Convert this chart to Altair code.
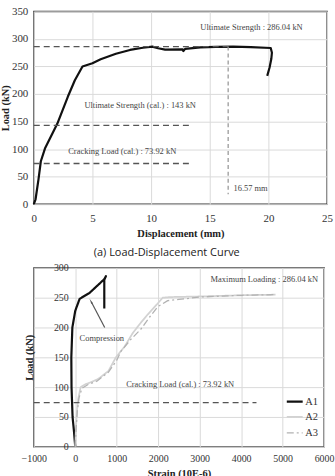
import altair as alt
import pandas as pd

SERIF = "Liberation Serif"
SANS = "Open Sans"

# ---------------- (a) load-displacement curve ----------------
disp_mm = [0, 0.15, 0.4, 0.6, 0.95, 2.0, 2.9, 3.5, 4.15, 5.0, 5.7, 7.0, 8.2, 9.3,
           10.1, 10.6, 11.2, 12.7, 12.75, 12.9, 14.2, 15.5, 17.0, 18.5, 20.2,
           20.3, 20.25, 20.1, 19.9]
disp_load = [0, 9, 45, 78, 101, 146, 195, 225, 250, 256, 263, 273, 280, 284,
             286.04, 283, 280.5, 281, 278, 282, 284.5, 285.5, 286.04, 285, 283.5,
             275, 264, 248, 233]

ultimate_load = 286.04
ultimate_cal = 143
cracking_cal = 73.92
ultimate_disp = 16.57
cal_line_end = 13.3
v_line_bottom = 18

# ---------------- strain gauge readings ----------------
a1_strain = [0, -30, -65, -90, -95, -70, 0, 105, 200, 345, 500, 700, 740, 700, 700]
a1_load = [0, 25, 50, 100, 150, 200, 228, 248, 252, 258, 268, 281, 286.04, 280, 232]

a2_strain = [0, 15, 40, 70, 130, 250, 370, 560, 800, 980, 1190, 1380, 1580, 1750,
             1920, 2110, 2300, 3000, 4000, 4830]
a2_load = [0, 30, 60, 80, 100, 105, 108, 114, 127, 150, 168, 190, 208, 222,
           235, 250, 251, 252, 254, 255]

a3_strain = [0, 20, 50, 90, 160, 300, 520, 800, 1000, 1100, 1340, 1580, 1800,
             1990, 2230, 2500, 3000, 4000, 4830]
a3_load = [0, 30, 60, 82, 98, 104, 110, 125, 145, 160, 180, 197, 218, 235, 245,
           247, 251, 254, 255]

series_names = ["A1", "A2", "A3"]
series_colors = ["#111111", "#d2d2d2", "#b2b2b2"]
series_dash = [[1, 0], [1, 0], [7, 3, 2, 3]]
series_width = [2.2, 1.3, 1.3]

max_loading = 286.04
crack_line_end = 4370

# ---------------- sizes ----------------
TOP_W, TOP_H = 295, 194
BOT_W, BOT_H = 292, 180
LABEL_SIZE = 8.5
NOTE_COLOR = "#444444"

# ================= top panel =================
x_top = dict(
    scale=alt.Scale(domain=[0, 25], nice=False),
    axis=alt.Axis(values=[0, 5, 10, 15, 20, 25], title="Displacement  (mm)",
                  labelFlush=False, labelOverlap=False, labelPadding=8,
                  titlePadding=5),
)
y_top = dict(
    scale=alt.Scale(domain=[0, 350], nice=False),
    axis=alt.Axis(values=list(range(0, 351, 50)), title="Load (kN)",
                  labelPadding=6, labelOverlap=False, titleX=-28, titleY=TOP_H / 2,
                  titleAngle=270, titleAlign="center", titleBaseline="middle"),
)

top_df = pd.DataFrame({"x": disp_mm, "y": disp_load, "i": range(len(disp_mm))})
top_curve = alt.Chart(top_df).mark_line(
    color="#111111", strokeWidth=2.2, strokeJoin="round"
).encode(x=alt.X("x:Q", **x_top), y=alt.Y("y:Q", **y_top), order="i:Q")

h_refs = pd.DataFrame({
    "x": [0, 0, 0],
    "x2": [ultimate_disp, cal_line_end, cal_line_end],
    "y": [ultimate_load, ultimate_cal, cracking_cal],
})
top_hrules = alt.Chart(h_refs).mark_rule(
    color="#555555", strokeDash=[6, 4], strokeWidth=1.3
).encode(x=alt.X("x:Q", **x_top), x2="x2:Q", y=alt.Y("y:Q", **y_top))

v_ref = pd.DataFrame({"x": [ultimate_disp], "y": [ultimate_load], "y2": [v_line_bottom]})
top_vrule = alt.Chart(v_ref).mark_rule(
    color="#9a9a9a", strokeDash=[4, 3], strokeWidth=1.3
).encode(x=alt.X("x:Q", **x_top), y=alt.Y("y:Q", **y_top), y2="y2:Q")

top_notes = pd.DataFrame({
    "x": [18.56, 9.07, 7.54],
    "y": [321, 180.5, 95.7],
    "label": [
        f"Ultimate Strength : {ultimate_load:.2f} kN",
        f"Ultimate Strength (cal.) : {ultimate_cal} kN",
        f"Cracking Load (cal.) : {cracking_cal:.2f} kN",
    ],
})
top_text = alt.Chart(top_notes).mark_text(
    font=SERIF, fontSize=LABEL_SIZE, color=NOTE_COLOR, align="center", baseline="middle"
).encode(x=alt.X("x:Q", **x_top), y=alt.Y("y:Q", **y_top), text="label:N")

disp_note = pd.DataFrame({"x": [ultimate_disp + 0.45], "y": [29],
                          "label": [f"{ultimate_disp:.2f} mm"]})
top_disp_text = alt.Chart(disp_note).mark_text(
    font=SERIF, fontSize=LABEL_SIZE, color=NOTE_COLOR, align="left", baseline="middle"
).encode(x=alt.X("x:Q", **x_top), y=alt.Y("y:Q", **y_top), text="label:N")

top = alt.layer(top_curve, top_hrules, top_vrule, top_text, top_disp_text).properties(
    width=TOP_W, height=TOP_H,
    title=alt.TitleParams("(a) Load-Displacement Curve", orient="bottom", frame="bounds",
                          anchor="middle", font=SANS, fontSize=11, fontWeight="normal",
                          color="#222222", offset=9),
)

# ================= bottom panel =================
zero_offset = BOT_W * 1000 / 7000
x_bot = dict(
    scale=alt.Scale(domain=[-1000, 6000], nice=False),
    axis=alt.Axis(values=list(range(-1000, 6001, 1000)), title="Strain (10E-6)",
                  format="d", labelFlush=False, labelOverlap=False, labelPadding=7,
                  labelFontSize=10, titlePadding=5),
)
y_bot = dict(
    scale=alt.Scale(domain=[0, 300], nice=False),
    axis=alt.Axis(values=list(range(0, 301, 50)), title="Load (kN)",
                  offset=-zero_offset, labelPadding=7, labelOverlap=False,
                  labelFontSize=10,
                  titleX=-zero_offset - 4, titleY=BOT_H / 2, titleAngle=270,
                  titleAlign="center", titleBaseline="middle"),
)

rows = []
for name, xs, ys in zip(series_names, [a1_strain, a2_strain, a3_strain],
                        [a1_load, a2_load, a3_load]):
    for i, (sx, sy) in enumerate(zip(xs, ys)):
        rows.append({"series": name, "x": sx, "y": sy, "i": i})
gauge_df = pd.DataFrame(rows)

legend = alt.Legend(title=None, orient="none", legendX=253, legendY=125,
                    symbolType="stroke", symbolSize=256, labelFont=SERIF,
                    labelFontSize=10.5, labelColor="#333333", labelOffset=1,
                    rowPadding=1, padding=0)

gauge_lines = alt.Chart(gauge_df).mark_line(strokeJoin="round").encode(
    x=alt.X("x:Q", **x_bot),
    y=alt.Y("y:Q", **y_bot),
    color=alt.Color("series:N", scale=alt.Scale(domain=series_names, range=series_colors),
                    legend=legend),
    strokeDash=alt.StrokeDash("series:N",
                              scale=alt.Scale(domain=series_names, range=series_dash),
                              legend=legend),
    strokeWidth=alt.StrokeWidth("series:N",
                                scale=alt.Scale(domain=series_names, range=series_width),
                                legend=legend),
    order="i:Q",
)

crack_ref = pd.DataFrame({"x": [-1000], "x2": [crack_line_end], "y": [cracking_cal]})
bot_rule = alt.Chart(crack_ref).mark_rule(
    color="#555555", strokeDash=[6, 4], strokeWidth=1.3
).encode(x=alt.X("x:Q", **x_bot), x2="x2:Q", y=alt.Y("y:Q", **y_bot))

bot_notes = pd.DataFrame({
    "x": [4560, 2530, 640],
    "y": [282, 105, 183],
    "label": [
        f"Maximum Loading : {max_loading:.2f} kN",
        f"Cracking Load (cal.) : {cracking_cal:.2f} kN",
        "Compression",
    ],
})
bot_text = alt.Chart(bot_notes).mark_text(
    font=SERIF, fontSize=LABEL_SIZE, color=NOTE_COLOR, align="center", baseline="middle"
).encode(x=alt.X("x:Q", **x_bot), y=alt.Y("y:Q", **y_bot), text="label:N")

# arrow pointing from the "Compression" note to the A1 curve
arrow_df = pd.DataFrame({"x": [710], "y": [200], "x2": [385], "y2": [243]})
arrow_shaft = alt.Chart(arrow_df).mark_rule(color="#555555", strokeWidth=1.2).encode(
    x=alt.X("x:Q", **x_bot), y=alt.Y("y:Q", **y_bot), x2="x2:Q", y2="y2:Q")
arrow_head = alt.Chart(arrow_df).mark_point(
    shape="wedge", angle=332, size=45, filled=True, color="#555555", opacity=1
).encode(x=alt.X("x2:Q", **x_bot), y=alt.Y("y2:Q", **y_bot))

bottom = alt.layer(gauge_lines, bot_rule, bot_text, arrow_shaft, arrow_head).properties(
    width=BOT_W, height=BOT_H
)

chart = alt.vconcat(top, bottom, spacing=2).properties(
    padding={"left": 0, "top": 3, "right": 0, "bottom": 0}
).resolve_legend(
    color="independent", strokeDash="independent", strokeWidth="independent"
).configure(background="white").configure_view(
    stroke="#333333", strokeWidth=1.4
).configure_axis(
    labelFont=SERIF, labelFontSize=11, labelColor="#333333",
    titleFont=SERIF, titleFontSize=10.5, titleFontWeight="bold", titleColor="#222222",
    domain=False, ticks=False, gridColor="#dadada", gridWidth=1,
)

chart.save("out.html", embed_options={"renderer": "svg", "actions": False})
